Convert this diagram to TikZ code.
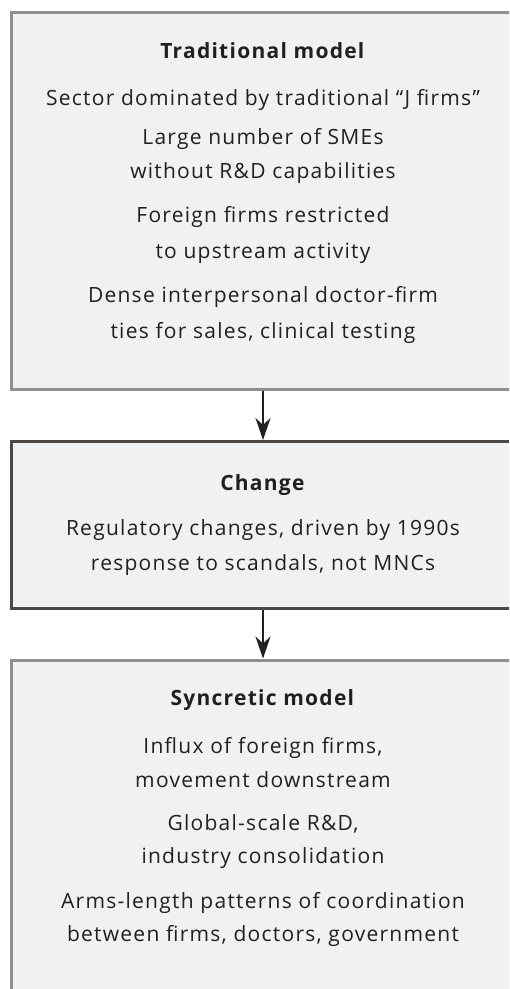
\documentclass[tikz,border=0pt]{standalone}
\usepackage{fontspec}
\setmainfont[LetterSpace=6]{Open Sans}
\usepackage{xcolor}
\usetikzlibrary{arrows.meta}

\definecolor{boxfill}{HTML}{F0F1F3}
\definecolor{boxgray}{HTML}{8F8F8F}
\definecolor{boxdark}{HTML}{4D4845}
\definecolor{inkdark}{HTML}{231F20}

\tikzset{
    modelbox/.style={draw=boxgray, fill=boxfill, line width=1.5pt, minimum width=270pt, inner sep=0pt},
    changebox/.style={modelbox, draw=boxdark},
    txt/.style={anchor=base, text=inkdark, font=\fontsize{10.5}{12}\selectfont},
    flow/.style={-{Stealth[length=11pt,width=7.5pt,inset=3.5pt]}, line width=1pt, draw=inkdark}
}

\begin{document}
\begin{tikzpicture}[x=0.5pt, y=-0.5pt]

    \useasboundingbox (0,0) rectangle (509,989);
    \clip (0,0) rectangle (509,989);

    % Boxes (right side runs off the page)
    \node[modelbox, minimum height=188.5pt] (trad) at (281,201) {};
    \node[changebox, minimum height=83.5pt] (change) at (281,525) {};
    \node[modelbox, minimum height=175pt] (sync) at (281,835) {};

    % Traditional model
    \foreach \y/\txt [count=\i] in {
        59/\textbf{Traditional model},
        106/Sector dominated by traditional “J firms”,
        145/Large number of SMEs,
        179/without R\&D capabilities,
        223/Foreign firms restricted,
        259/to upstream activity,
        303/Dense interpersonal doctor-firm,
        338/{ties for sales, clinical testing}
    }
    {
        \node[txt] (trad\i) at (263,\y) {\txt};
    }

    % Change
    \foreach \y/\txt [count=\i] in {
        490/\textbf{Change},
        535/{Regulatory changes, driven by 1990s},
        570/{response to scandals, not MNCs}
    }
    {
        \node[txt] (change\i) at (263,\y) {\txt};
    }

    % Syncretic model
    \foreach \y/\txt [count=\i] in {
        705/\textbf{Syncretic model},
        753/{Influx of foreign firms,},
        787/movement downstream,
        830/{Global-scale R\&D,},
        863/industry consolidation,
        908/Arms-length patterns of coordination,
        941/{between firms, doctors, government}
    }
    {
        \node[txt] (sync\i) at (263,\y) {\txt};
    }

    % Arrows
    \draw[flow] (trad.south -| change1) -- (change.north -| change1);
    \draw[flow] (change.south -| change1) -- (sync.north -| change1);

\end{tikzpicture}
\end{document}
